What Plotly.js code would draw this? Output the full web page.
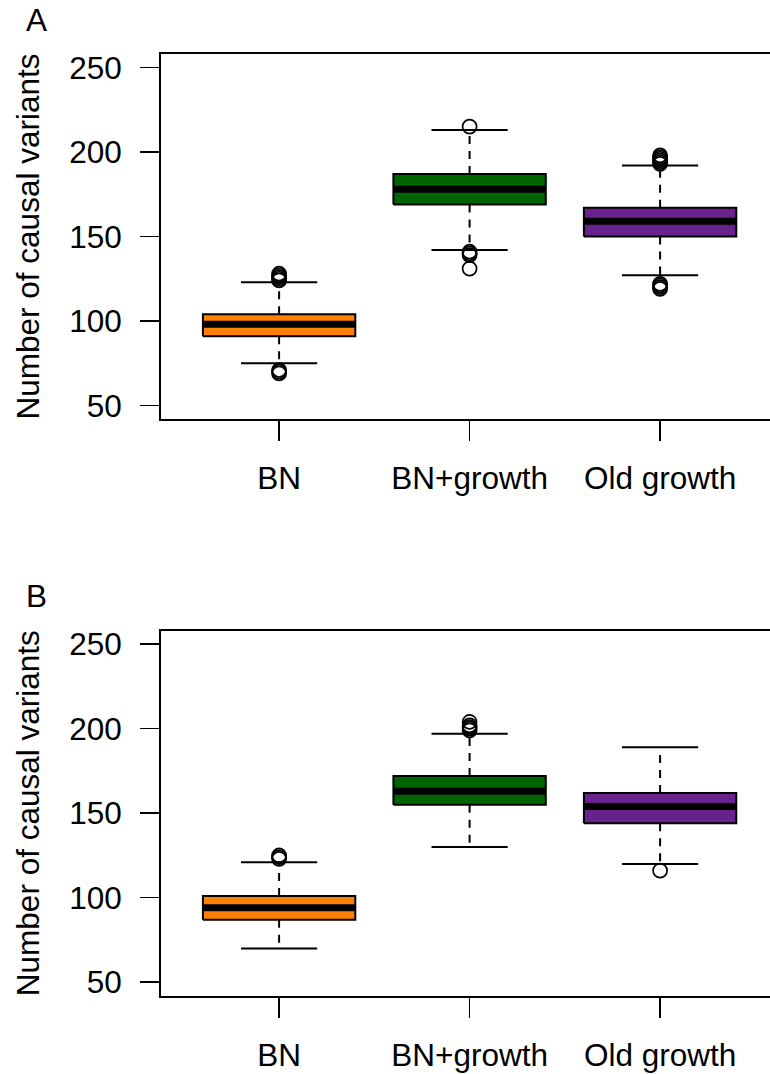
<!DOCTYPE html>
<html><head><meta charset="utf-8">
<script src="https://cdn.plot.ly/plotly-3.0.1.min.js"></script>
<style>html,body{margin:0;padding:0;background:#fff}</style>
</head><body><div id="chart" style="width:770px;height:1074px"></div>
<script>
// ---- data ----
const categories = ["BN", "BN+growth", "Old growth"];
const fillColors = ["#FF7F00", "#006400", "#68228B"];
const yTickVals = [50, 100, 150, 200, 250];
const panelLabels = ["A", "B"];
const yTitle = "Number of causal variants";

// Panel A
const A_q1 = [91, 169, 150];
const A_median = [98, 178, 159];
const A_q3 = [104, 187, 167];
const A_whiskerLow = [75, 142, 127];
const A_whiskerHigh = [123, 213, 192];
const A_outliers = [
  [69, 70, 71, 124, 125, 126, 127, 128],
  [131, 139, 140, 141, 215],
  [119, 120, 121, 122, 193, 194, 195, 196, 197, 198]
];

// Panel B
const B_q1 = [87, 155, 144];
const B_median = [94, 163, 154];
const B_q3 = [101, 172, 162];
const B_whiskerLow = [70, 130, 120];
const B_whiskerHigh = [121, 197, 189];
const B_outliers = [
  [123, 124, 125],
  [199, 200, 201, 202, 204],
  [116]
];

// ---- styles ----
const BOX_HALF = 0.4, CAP_HALF = 0.2;
const FONT = "Liberation Sans, Arial, Helvetica, sans-serif";
const FS = 31.5;

function panelTraces(q1, med, q3, wlo, whi, outs, xa, ya) {
  const tr = [];
  categories.forEach((c, i) => {
    const x = i + 1;
    tr.push({type: "scatter", mode: "lines", xaxis: xa, yaxis: ya, hoverinfo: "skip",
      x: [x, x, null, x, x], y: [q3[i], whi[i], null, q1[i], wlo[i]],
      line: {color: "#000", width: 2, dash: "8px,7px"}});
    tr.push({type: "scatter", mode: "lines", xaxis: xa, yaxis: ya, hoverinfo: "skip",
      x: [x - CAP_HALF, x + CAP_HALF, null, x - CAP_HALF, x + CAP_HALF],
      y: [whi[i], whi[i], null, wlo[i], wlo[i]],
      line: {color: "#000", width: 2}});
    tr.push({type: "scatter", mode: "lines", xaxis: xa, yaxis: ya, hoverinfo: "skip",
      x: [x - BOX_HALF, x + BOX_HALF, x + BOX_HALF, x - BOX_HALF, x - BOX_HALF],
      y: [q1[i], q1[i], q3[i], q3[i], q1[i]],
      fill: "toself", fillcolor: fillColors[i],
      line: {color: "#000", width: 2}});
    tr.push({type: "scatter", mode: "lines", xaxis: xa, yaxis: ya, hoverinfo: "skip",
      x: [x - BOX_HALF, x + BOX_HALF], y: [med[i], med[i]],
      line: {color: "#000", width: 7}});
    tr.push({type: "scatter", mode: "markers", xaxis: xa, yaxis: ya, hoverinfo: "skip",
      x: outs[i].map(() => x), y: outs[i],
      marker: {symbol: "circle-open", size: 14, color: "#000", line: {width: 1.7, color: "#000"}}});
  });
  return tr;
}

const data = [].concat(
  panelTraces(A_q1, A_median, A_q3, A_whiskerLow, A_whiskerHigh, A_outliers, "x", "y"),
  panelTraces(B_q1, B_median, B_q3, B_whiskerLow, B_whiskerHigh, B_outliers, "x2", "y2")
);

const H = 1074, PLOT_W = 609;
function xAxis(anchor) {
  return {anchor: anchor, domain: [0, 1], range: [0.38, 3.577],
    tickvals: [1, 2, 3], ticktext: categories, ticks: "outside", ticklen: 20, tickwidth: 1.5,
    tickcolor: "#000", showline: true, mirror: true, linecolor: "#000", linewidth: 2,
    showgrid: false, zeroline: false, ticklabelstandoff: 10,
    tickfont: {family: FONT, size: FS, color: "#000"}};
}
function yAxis(anchor, top, bottom) {
  return {anchor: anchor, domain: [1 - bottom / H, 1 - top / H], range: [42, 258],
    tickvals: yTickVals, ticks: "outside", ticklen: 19, tickwidth: 1.5, tickcolor: "#000",
    showline: true, linecolor: "#000", linewidth: 2, showgrid: false, zeroline: false,
    ticklabelstandoff: 12,
    tickfont: {family: FONT, size: FS, color: "#000"},
    title: {text: yTitle, font: {family: FONT, size: FS, color: "#000"}, standoff: 20}};
}

const layout = {
  width: 770, height: H, showlegend: false,
  paper_bgcolor: "#fff", plot_bgcolor: "#fff",
  margin: {l: 161, r: 0, t: 0, b: 0},
  xaxis: xAxis("y"), yaxis: yAxis("x", 54, 419),
  xaxis2: xAxis("y2"), yaxis2: yAxis("x2", 630.7, 995.7),
  annotations: [
    {text: panelLabels[0], xref: "paper", yref: "paper", x: (24 - 161) / PLOT_W, xanchor: "left",
     y: 1 - 19.5 / H, yanchor: "middle", showarrow: false, font: {family: FONT, size: FS, color: "#000"}},
    {text: panelLabels[1], xref: "paper", yref: "paper", x: (24 - 161) / PLOT_W, xanchor: "left",
     y: 1 - 595.5 / H, yanchor: "middle", showarrow: false, font: {family: FONT, size: FS, color: "#000"}}
  ]
};
Plotly.newPlot("chart", data, layout, {staticPlot: true, displayModeBar: false});
</script></body></html>
